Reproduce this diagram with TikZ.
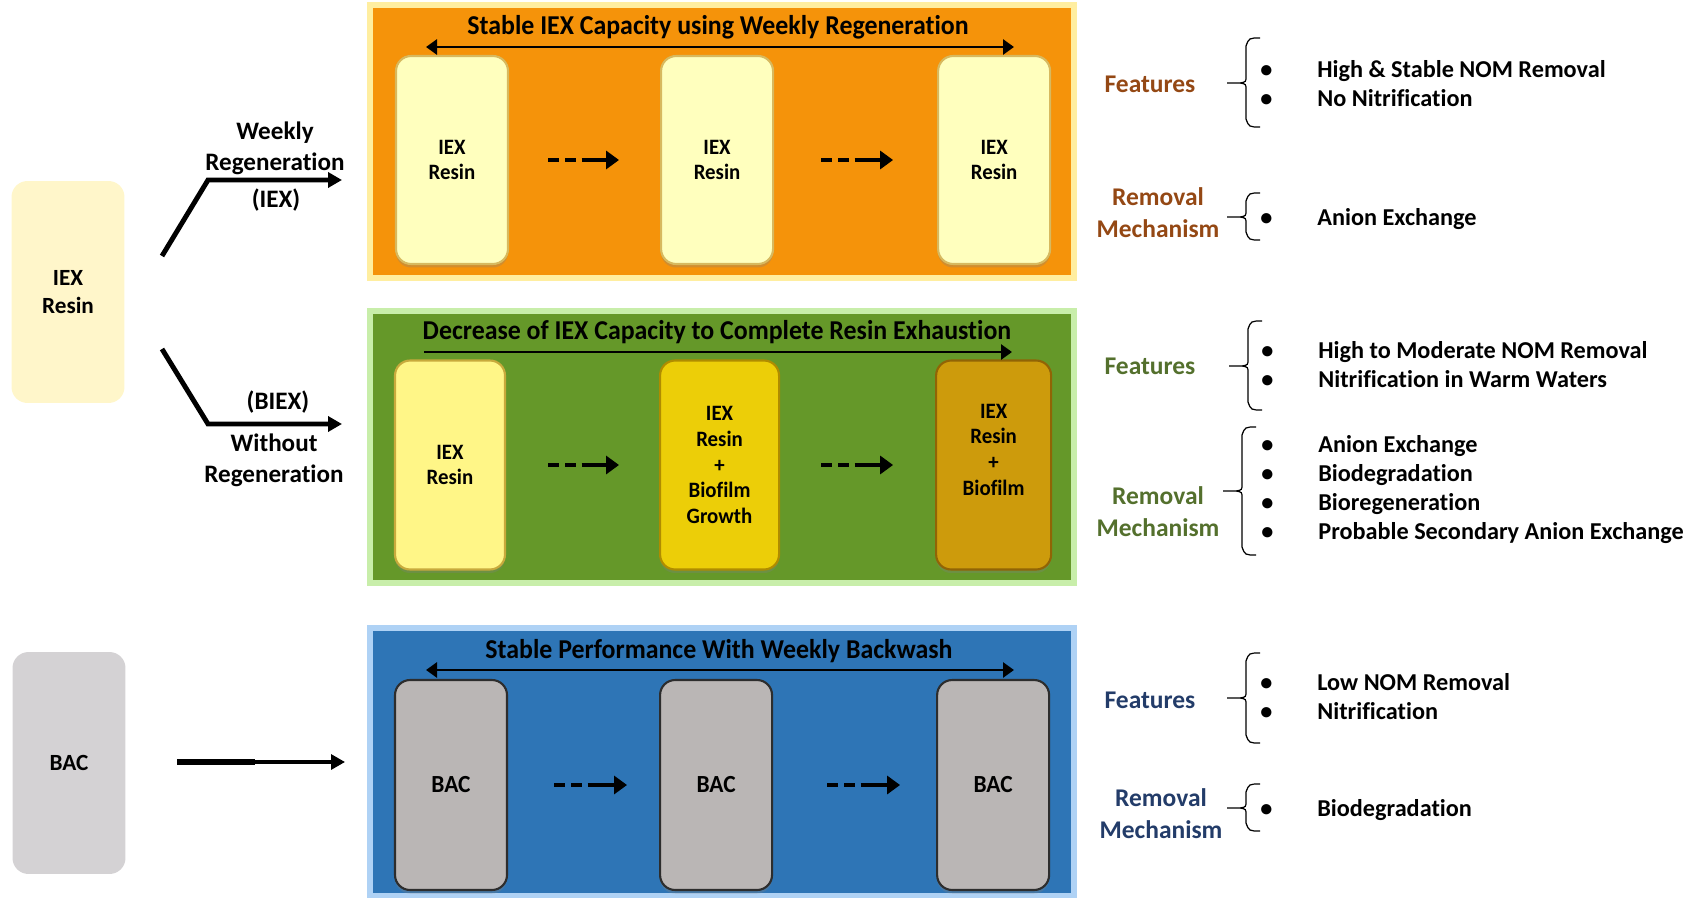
\documentclass[tikz,border=0pt]{standalone}
\usepackage{fontspec}
\setmainfont{Carlito}[Ligatures=NoCommon]
\newfontfamily\narrowfont[FakeStretch=0.95, Ligatures=NoCommon]{Carlito}
\usetikzlibrary{positioning,arrows.meta,shadows}

\definecolor{orangefill}{RGB}{245,147,10}
\definecolor{orangeglow}{RGB}{255,238,160}
\definecolor{paleresin}{RGB}{255,255,190}
\definecolor{paleedge}{RGB}{215,185,95}
\definecolor{greenfill}{RGB}{101,152,41}
\definecolor{greenglow}{RGB}{200,238,170}
\definecolor{freshresin}{RGB}{255,246,135}
\definecolor{freshedge}{RGB}{200,170,60}
\definecolor{growresin}{RGB}{236,206,8}
\definecolor{growedge}{RGB}{175,140,0}
\definecolor{oldresin}{RGB}{205,155,12}
\definecolor{oldedge}{RGB}{145,100,5}
\definecolor{bluefill}{RGB}{46,117,182}
\definecolor{blueglow}{RGB}{175,210,245}
\definecolor{bacgrey}{RGB}{186,182,181}
\definecolor{bacedge}{RGB}{45,45,45}
\definecolor{paleiex}{RGB}{255,246,202}
\definecolor{feedgrey}{RGB}{212,210,212}
\definecolor{orangehead}{RGB}{148,72,20}
\definecolor{greenhead}{RGB}{84,112,45}
\definecolor{bluehead}{RGB}{35,60,105}

\newcommand{\sidebrace}[4]{\draw[bracket] (#1+14,#2) .. controls (#1+3,#2) .. (#1,#2+8) -- (#1,#3-7) .. controls (#1,#3-1) .. (#1-6,#3) -- (#1-19,#3) (#1-6,#3) .. controls (#1,#3+1) .. (#1,#3+7) -- (#1,#4-8) .. controls (#1+3,#4) .. (#1+14,#4);}
\newcommand{\itemsof}[1]{\begin{tabular}{@{}p{1.14cm}@{}l@{}}#1\end{tabular}}

\begin{document}
\begin{tikzpicture}[x=0.02cm, y=-0.02cm,
					panel/.style={rectangle, line width=3.5pt, minimum width=14.08cm},
					resin/.style={rectangle, rounded corners=0.3cm, line width=1.2pt, align=center, inner sep=0pt, minimum width=2.24cm, minimum height=4.16cm, drop shadow={shadow xshift=0pt, shadow yshift=-2pt, opacity=0.3}, font=\narrowfont\bfseries\fontsize{12.5}{14.6}\selectfont},
					feed/.style={rectangle, rounded corners=0.32cm, align=center, minimum width=2.26cm, minimum height=4.44cm, font=\bfseries\fontsize{13.2}{16}\selectfont},
					paneltitle/.style={inner sep=0pt, font=\narrowfont\bfseries\fontsize{15.5}{18}\selectfont},
					branchtext/.style={align=center, inner sep=0pt, font=\bfseries\fontsize{14.3}{17.6}\selectfont},
					heading/.style={align=center, inner sep=0pt, font=\bfseries\fontsize{14.5}{18.2}\selectfont},
					itemlist/.style={anchor=west, inner sep=0pt, font=\bfseries\fontsize{13.8}{16.5}\selectfont},
					flow/.style={line width=2.5pt, dash pattern=on 0.22cm off 0.12cm on 0.22cm off 0.11cm on 3cm off 0cm, -{Triangle[length=0.26cm, width=0.36cm]}},
					span/.style={line width=1.6pt},
					branch/.style={line width=2.8pt, -{Triangle[length=0.28cm, width=0.3cm]}},
					bracket/.style={line width=0.7pt}
				]
				\useasboundingbox (0,0) rectangle (1692,898);
				\node[panel, fill=orangefill, draw=orangeglow, minimum height=5.46cm] (orangepanel) at (722,141.5) {};
				\node[panel, fill=greenfill, draw=greenglow, minimum height=5.44cm] (greenpanel) at (722,447) {};
				\node[panel, fill=bluefill, draw=blueglow, minimum height=5.36cm] (bluepanel) at (722,762) {};
				\node[paneltitle] (orangetitle) at (718,27) {Stable IEX Capacity using Weekly Regeneration};
				\node[paneltitle] (greentitle) at (717,332) {Decrease of IEX Capacity to Complete Resin Exhaustion};
				\node[paneltitle] (bluetitle) at (719,651) {Stable Performance With Weekly Backwash};
				\node[resin, fill=paleresin, draw=paleedge] (oneorange) at (452,160) {IEX\\Resin};
				\node[resin, fill=paleresin, draw=paleedge] (twoorange) [right=3.02cm of oneorange] {IEX\\Resin};
				\node[resin, fill=paleresin, draw=paleedge] (threeorange) [right=3.26cm of twoorange] {IEX\\Resin};
				\node[resin, fill=freshresin, draw=freshedge, minimum width=2.2cm, minimum height=4.18cm] (onegreen) at (450,465) {IEX\\Resin};
				\node[resin, fill=growresin, draw=growedge, minimum width=2.38cm, minimum height=4.18cm] (twogreen) [right=3.06cm of onegreen] {IEX\\Resin\\+\\Biofilm\\Growth};
				\node[resin, fill=oldresin, draw=oldedge, minimum width=2.3cm, minimum height=4.18cm, text depth=0.62cm] (threegreen) [right=3.1cm of twogreen] {IEX\\Resin\\+\\Biofilm};
				\node[resin, fill=bacgrey, draw=bacedge, minimum height=4.2cm, font=\narrowfont\bfseries\fontsize{14}{16}\selectfont] (onebac) at (451,785) {BAC};
				\node[resin, fill=bacgrey, draw=bacedge, minimum height=4.2cm, font=\narrowfont\bfseries\fontsize{14}{16}\selectfont] (twobac) [right=3.02cm of onebac] {BAC};
				\node[resin, fill=bacgrey, draw=bacedge, minimum height=4.2cm, font=\narrowfont\bfseries\fontsize{14}{16}\selectfont] (threebac) [right=3.26cm of twobac] {BAC};
				\draw[flow, shorten <=0.78cm, shorten >=0.82cm] (oneorange) -- (twoorange);
				\draw[flow, shorten <=0.94cm, shorten >=0.88cm] (twoorange) -- (threeorange);
				\draw[flow, shorten <=0.84cm, shorten >=0.8cm] (onegreen) -- (twogreen);
				\draw[flow, shorten <=0.82cm, shorten >=0.84cm] (twogreen) -- (threegreen);
				\draw[flow, shorten <=0.92cm, shorten >=0.64cm] (onebac) -- (twobac);
				\draw[flow, shorten <=1.08cm, shorten >=0.72cm] (twobac) -- (threebac);
				\coordinate (orangespanleft) at (426,47);
				\coordinate (orangespanright) at (1014,47);
				\coordinate (greenspanleft) at (424,352);
				\coordinate (greenspanright) at (1012,352);
				\coordinate (bluespanleft) at (426,670);
				\coordinate (bluespanright) at (1014,670);
				\begin{scope}[span]
				\draw[{Triangle[length=0.22cm, width=0.3cm]}-{Triangle[length=0.22cm, width=0.3cm]}] (orangespanleft) -- (orangespanright);
				\draw[-{Triangle[length=0.22cm, width=0.3cm]}] (greenspanleft) -- (greenspanright);
				\draw[{Triangle[length=0.22cm, width=0.3cm]}-{Triangle[length=0.22cm, width=0.3cm]}] (bluespanleft) -- (bluespanright);
				\end{scope}
				\node[feed, fill=paleiex] (iexfeed) at (68,292) {IEX\\Resin};
				\node[feed, fill=feedgrey] (bacfeed) at (69,763) {BAC};
				\coordinate (upstart) at (162,256);
				\coordinate (upbend) at (208,180);
				\coordinate (upend) at (342,180);
				\coordinate (downstart) at (162,349);
				\coordinate (downbend) at (208,424);
				\coordinate (downend) at (342,424);
				\coordinate (bacstart) at (177,762);
				\coordinate (bacmid) at (255,762);
				\coordinate (bacend) at (345,762);
				\draw[branch] (upstart) -- (upbend) -- (upend);
				\draw[branch] (downstart) -- (downbend) -- (downend);
				\draw[line width=3.4pt] (bacstart) -- (bacmid);
				\draw[branch, line width=1.8pt] (bacmid) -- (bacend);
				\node[branchtext] (weeklytext) at (275,148) {Weekly\\Regeneration};
				\node[branchtext] (iextext) at (276,200) {(IEX)};
				\node[branchtext] (biextext) at (278,402) {(BIEX)};
				\node[branchtext] (withouttext) at (274,460) {Without\\Regeneration};
				\node[heading, text=orangehead] (orangefeatures) at (1150,84) {Features};
				\node[heading, text=orangehead] (orangemechanism) at (1158,213) {Removal\\Mechanism};
				\node[heading, text=greenhead] (greenfeatures) at (1150,366) {Features};
				\node[heading, text=greenhead] (greenmechanism) at (1158,512) {Removal\\Mechanism};
				\node[heading, text=bluehead] (bluefeatures) at (1150,700) {Features};
				\node[heading, text=bluehead] (bluemechanism) at (1161,814) {Removal\\Mechanism};
				\sidebrace{1246}{38}{83}{127}
				\sidebrace{1246}{193}{217}{240}
				\sidebrace{1248}{321}{366}{410}
				\sidebrace{1242}{427}{491}{555}
				\sidebrace{1246}{653}{698}{743}
				\sidebrace{1246}{784}{808}{831}
				\node[itemlist] (orangefeaturelist) at (1260,86.5) {\itemsof{\textbullet & High \& Stable NOM Removal\\ \textbullet & No Nitrification}};
				\node[itemlist] (orangemechanismlist) at (1260,220) {\itemsof{\textbullet & Anion Exchange}};
				\node[itemlist] (greenfeaturelist) at (1261,367) {\itemsof{\textbullet & High to Moderate NOM Removal\\ \textbullet & Nitrification in Warm Waters}};
				\node[itemlist] (greenmechanismlist) at (1261,490) {\itemsof{\textbullet & Anion Exchange\\ \textbullet & Biodegradation\\ \textbullet & Bioregeneration\\ \textbullet & Probable Secondary Anion Exchange}};
				\node[itemlist] (bluefeaturelist) at (1260,699) {\itemsof{\textbullet & Low NOM Removal\\ \textbullet & Nitrification}};
				\node[itemlist] (bluemechanismlist) at (1260,811) {\itemsof{\textbullet & Biodegradation}};
				\end{tikzpicture}
\end{document}
